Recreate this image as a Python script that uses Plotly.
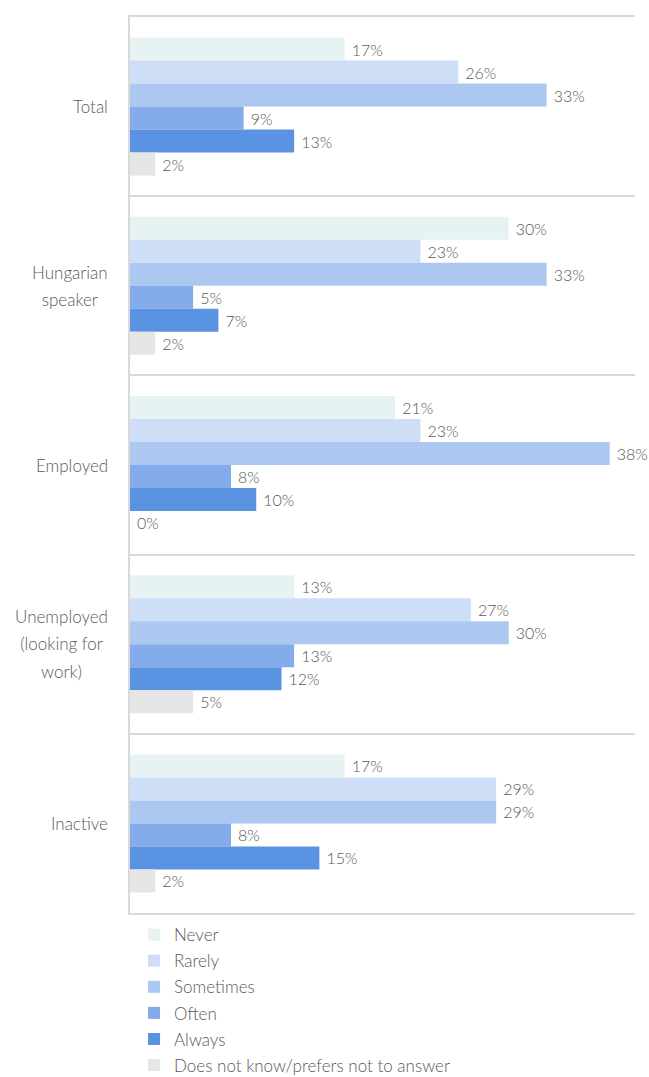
import plotly.graph_objects as go

# Survey groups (top to bottom) and answer frequencies in percent
groups = ["Total", "Hungarian speaker", "Employed", "Unemployed (looking for work)", "Inactive"]
group_labels = ["Total", "Hungarian<br>speaker", "Employed",
                "Unemployed<br>(looking for<br>work)", "Inactive"]
answers = ["Never", "Rarely", "Sometimes", "Often", "Always",
           "Does not know/prefers not to answer"]

never = [17, 30, 21, 13, 17]
rarely = [26, 23, 23, 27, 29]
sometimes = [33, 33, 38, 30, 29]
often = [9, 5, 8, 13, 8]
always = [13, 7, 10, 12, 15]
dont_know = [2, 2, 0, 5, 2]

series = [never, rarely, sometimes, often, always, dont_know]
colors = ["#E6F3F2", "#CEDEF6", "#ADC8F0", "#84ABEA", "#5B93E3", "#E6E6E6"]

FONT = "Lato"
TEXT_COLOR = "#595959"
SIZE = 17

fig = go.Figure()
for name, vals, col in zip(answers, series, colors):
    fig.add_trace(go.Bar(
        y=groups, x=vals, name=name, orientation="h",
        legendgroup=name,
        marker=dict(color=col, line=dict(width=0)),
        text=vals, texttemplate="\u2005%{x}%", textposition="outside",
        textfont=dict(family=FONT, size=16, color=TEXT_COLOR, weight=300),
        cliponaxis=False, hoverinfo="skip",
    ))

# Group labels: block right-aligned to the axis, lines centred within it.
# The outer font size sets the line spacing; the span sets the glyph size.
for g, lbl in zip(groups, group_labels):
    fig.add_annotation(
        x=0, xref="paper", y=g, yref="y",
        text=f"<span style='font-size:{SIZE}px'>{lbl}</span>",
        showarrow=False, xanchor="right", align="center", xshift=-20,
        font=dict(family=FONT, size=21, color=TEXT_COLOR, weight=300),
    )

fig.update_layout(
    width=649, height=1077,
    margin=dict(l=130, r=14, t=17, b=164, autoexpand=False),
    barmode="group", bargap=0.23, bargroupgap=0,
    plot_bgcolor="white", paper_bgcolor="white",
    font=dict(family=FONT, size=SIZE, color=TEXT_COLOR, weight=300),
    showlegend=True,
    legend=dict(
        orientation="v", x=0.008, xanchor="left", y=-0.0045, yanchor="top",
        yref="paper", traceorder="grouped", tracegroupgap=1,
        font=dict(family=FONT, size=SIZE, color=TEXT_COLOR, weight=300),
        itemwidth=30, bgcolor="rgba(0,0,0,0)",
    ),
    xaxis=dict(range=[0, 40], showgrid=False, zeroline=False,
               showticklabels=False, showline=True, mirror=True,
               linecolor="#D9D9D9", linewidth=1.5, ticks=""),
    yaxis=dict(autorange="reversed", type="category",
               tickson="boundaries", showgrid=True, gridcolor="#D9D9D9",
               gridwidth=1.5, showline=True, linecolor="#D9D9D9", linewidth=1.5,
               showticklabels=False, ticks=""),
)

fig.write_html("out.html")
